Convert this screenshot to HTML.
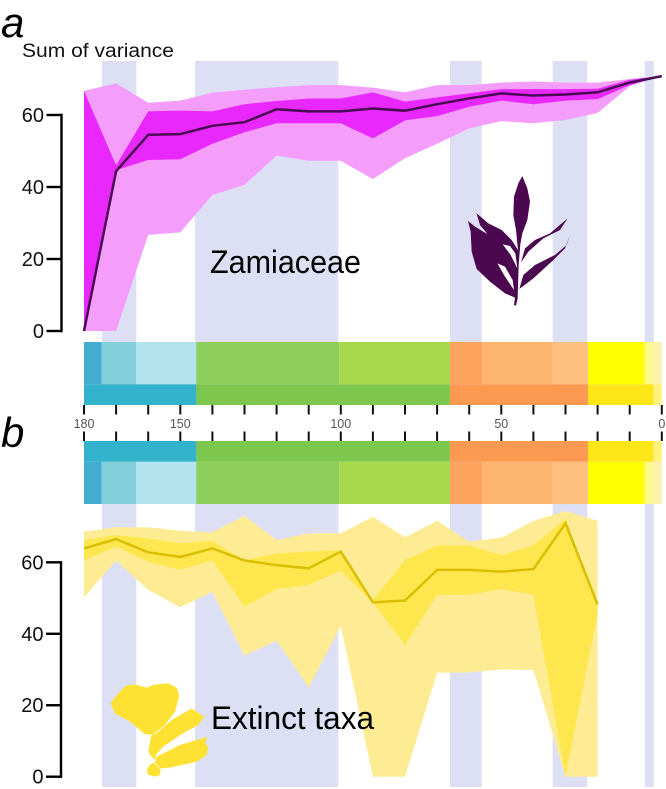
<!DOCTYPE html>
<html>
<head>
<meta charset="utf-8">
<style>
html,body{margin:0;padding:0;background:#fff;}
svg{display:block;font-family:"Liberation Sans",sans-serif;}
</style>
</head>
<body>
<svg id="chart" width="666" height="789" viewBox="0 0 666 789" xmlns="http://www.w3.org/2000/svg">
<g id="bands"></g>
<g id="panelA"></g>
<g id="panelB"></g>
<g id="scale"></g>
<text x="1" y="37" font-size="42" font-style="italic" fill="#000">a</text>
<text x="1" y="447" font-size="42" font-style="italic" fill="#000">b</text>
<text x="22" y="57" font-size="19" fill="#111" textLength="152" lengthAdjust="spacingAndGlyphs">Sum of variance</text>
<text x="210" y="273" font-size="32" fill="#000" textLength="151" lengthAdjust="spacingAndGlyphs">Zamiaceae</text>
<text x="211" y="729" font-size="32" fill="#000" textLength="163" lengthAdjust="spacingAndGlyphs">Extinct taxa</text>
<g transform="translate(440,165) scale(0.3333)" fill="#4b0850">
<path d="M247 33L262 70L270 110L262 165L247 205L241 238L236 300L233 400L228 422L222 420L225 398L195 385L150 350L110 312L95 260L92 200L84 168L105 185L142 207L120 180L101 115L110 145L145 175L185 195L215 225L234 255L228 195L220 150L222 95L235 55Z"/>
<path d="M383 160L360 195L310 220L265 260L243 293L255 250L285 225L330 205Z"/>
<path d="M390 210L375 250L335 290L280 340L238 372L250 330L285 300L345 270L380 240Z"/>
<path fill="#fff" d="M188 238L210 243L226 265L232 310L212 270Z"/>
<path fill="#fff" d="M172 295L195 305L218 345L222 375L195 335Z"/>
</g>
<g transform="translate(100,675) scale(0.3333)" fill="#fee233">
<path d="M32 85L50 60L78 32L105 28L140 38L165 28L205 25L230 38L238 62L225 110L195 150L160 178L135 178L90 140L45 115Z"/>
<path d="M155 178L165 178L215 135L275 100L312 125L295 150L240 180L190 215L168 240L165 255L150 240L145 225Z"/>
<path d="M170 245L240 210L322 186L315 205L325 215L320 240L290 260L210 278L180 280L165 262Z"/>
<path d="M150 268L162 262L182 285L180 300L165 305L145 300L140 285Z"/>
</g>
<script>
var times = [180,170,160,150,140,130,120,110,100,90,80,70,60,50,40,30,20,10,0];
var yTicks = [0,20,40,60];
var xTickValues = [180,170,160,150,140,130,120,110,100,90,80,70,60,50,40,30,20,10,0];
var xTickLabels = [180,150,100,50,0];

var zamMean = [0,44.4,54.5,54.7,57,58,61.6,61,61,61.8,61.2,63,64.6,66,65.4,65.7,66.3,69,70.8];
var zamOuterHigh = [66.7,68.8,63.4,64,66.2,67,67.7,68.3,68.3,67.6,66.3,68.3,68.3,69,69.3,69,69,70,70.8];
var zamInnerHigh = [66.7,46,61,61.2,61,63,63.9,64.6,64.6,66.3,63.7,64.9,66,67.2,67.2,67.2,67.3,69.8,70.8];
var zamInnerLow = [0,44.7,47.5,47.7,52,55.2,57.7,57.7,57.7,53.5,58.5,59.7,62.3,64,63,64,64.4,68.3,70.8];
var zamOuterLow = [0,0,26.7,27.4,37.8,40.6,48.7,47.3,47.3,42.2,48,52,56.3,58.3,57.7,58.6,60.6,68,70.8];

var extMean = [63.9,66.5,62.8,61.5,63.9,60.5,59.2,58.3,63,48.8,49.3,57.9,57.9,57.4,58.1,70.9,48.2];
var extOuterHigh = [68.6,69.8,69.8,68.8,68.4,73,66.2,68.1,68.1,72.8,67,71.6,65.8,66.9,71.6,74.4,71.6];
var extInnerHigh = [66.2,67.6,66.7,65.3,66,60.6,62.5,63,63.4,49.5,60.6,64.7,64.7,62,64.7,72.3,48.2];
var extInnerLow = [60.6,64.4,60.2,57.9,60.5,47.6,52.5,53.7,57.6,48.8,36.9,50.9,50.9,52.5,50.9,0,45.7];
var extOuterLow = [50.2,60.5,52.3,47.4,51.8,33.9,38.1,25,42.2,0,0,29.1,29.2,30,29.9,0,0];

var bandStarts = [174.4,145.4,66,34,5.3];
var bandEnds = [163.7,100.8,56.1,23.2,2.5];

var periodRowStarts = [180,145,66,23,2.6];
var periodRowEnds = [145,66,23,2.6,0];
var periodRowColors = ['#33b2cc','#7dc74f','#fd9a52','#ffe619','#fff27f'];
var stageRowStarts = [180,174.5,163.8,145,100.5,66,56,34,23,5.3,2.6];
var stageRowEnds = [174.5,163.8,145,100.5,66,56,34,23,5.3,2.6,0];
var stageRowColors = ['#42add0','#80cfd9','#b3e3ef','#8ecf5b','#a8d94c','#fda55f','#feb56f','#fdc07f','#ffff00','#fffa8c','#fff1b0'];

var NS = 'http://www.w3.org/2000/svg';
function x(t){ return 84 + (180 - t) * 3.21; }
function yA(v){ return 331 - v * 3.6; }
function yB(v){ return 776.7 - v * 3.573; }

function make(tag, parent, attrs){
  var el = document.createElementNS(NS, tag);
  for (var k in attrs) el.setAttribute(k, attrs[k]);
  parent.appendChild(el);
  return el;
}

function areaPoints(high, low, yf){
  var pts = [], i;
  for (i = 0; i < high.length; i++) pts.push(x(times[i]).toFixed(2) + ',' + yf(high[i]).toFixed(2));
  for (i = low.length - 1; i >= 0; i--) pts.push(x(times[i]).toFixed(2) + ',' + yf(low[i]).toFixed(2));
  return pts.join(' ');
}
function linePoints(vals, yf){
  return vals.map(function(v, i){ return x(times[i]).toFixed(2) + ',' + yf(v).toFixed(2); }).join(' ');
}

var bandsG = document.getElementById('bands');
bandStarts.forEach(function(s, i){
  var r = make('rect', bandsG, {x: x(s), y: 61, width: x(bandEnds[i]) - x(s), height: 726, fill: '#dde0f5'});
  
  
});

function drawPanel(g, yf, axisX, series, colors, prefix){
  var a = make('polygon', g, {points: areaPoints(series.outerHigh, series.outerLow, yf), fill: colors.outer});
  
  
  var b = make('polygon', g, {points: areaPoints(series.innerHigh, series.innerLow, yf), fill: colors.inner});
  
  
  var l = make('polyline', g, {points: linePoints(series.mean, yf), fill: 'none', stroke: colors.line, 'stroke-width': 2.5, 'stroke-linejoin': 'miter'});
  
  
  var ax = make('line', g, {x1: axisX, x2: axisX, y1: yf(60) - 1.2, y2: yf(0) + 1.2, stroke: '#000', 'stroke-width': 2.4});
  
  
  yTicks.forEach(function(v){
    var t = make('line', g, {x1: axisX - 15, x2: axisX, y1: yf(v), y2: yf(v), stroke: '#000', 'stroke-width': 2.4});
    
    
    var tx = make('text', g, {x: axisX - 17.5, y: yf(v) + 7, 'font-size': 20, 'text-anchor': 'end', fill: '#111'});
    
    
    tx.textContent = v;
  });
}

drawPanel(document.getElementById('panelA'), yA, 61.5,
  {mean: zamMean, outerHigh: zamOuterHigh, innerHigh: zamInnerHigh, innerLow: zamInnerLow, outerLow: zamOuterLow},
  {outer: '#f59dfb', inner: '#e828fd', line: '#4a0a50'}, 'zamiaceae');
drawPanel(document.getElementById('panelB'), yB, 61,
  {mean: extMean, outerHigh: extOuterHigh, innerHigh: extInnerHigh, innerLow: extInnerLow, outerLow: extOuterLow},
  {outer: '#feec95', inner: '#fee64f', line: '#d9bf00'}, 'extinct-taxa');

var scaleG = document.getElementById('scale');
make('rect', scaleG, {x: 80, y: 405, width: 586, height: 36, fill: '#fff'});
function strip(starts, ends, colors, y, h, name){
  starts.forEach(function(s, i){
    var r = make('rect', scaleG, {x: x(s), y: y, width: x(ends[i]) - x(s), height: h, fill: colors[i]});
    
    
  });
}
strip(stageRowStarts, stageRowEnds, stageRowColors, 342, 42.3, 'stage-segment-upper');
strip(periodRowStarts, periodRowEnds, periodRowColors, 384.3, 20.7, 'period-segment-upper');
strip(periodRowStarts, periodRowEnds, periodRowColors, 441, 20.8, 'period-segment-lower');
strip(stageRowStarts, stageRowEnds, stageRowColors, 461.8, 42.2, 'stage-segment-lower');

xTickValues.forEach(function(t){
  var a = make('line', scaleG, {x1: x(t), x2: x(t), y1: 405, y2: 414.5, stroke: '#111', 'stroke-width': 2});
  
  
  var b = make('line', scaleG, {x1: x(t), x2: x(t), y1: 431.5, y2: 441, stroke: '#111', 'stroke-width': 2});
  
  
});
xTickLabels.forEach(function(t){
  var l = make('text', scaleG, {x: x(t), y: 428, 'font-size': 12.5, 'text-anchor': 'middle', fill: '#555'});
  
  
  l.textContent = t;
});
</script>
</svg>
</body>
</html>
